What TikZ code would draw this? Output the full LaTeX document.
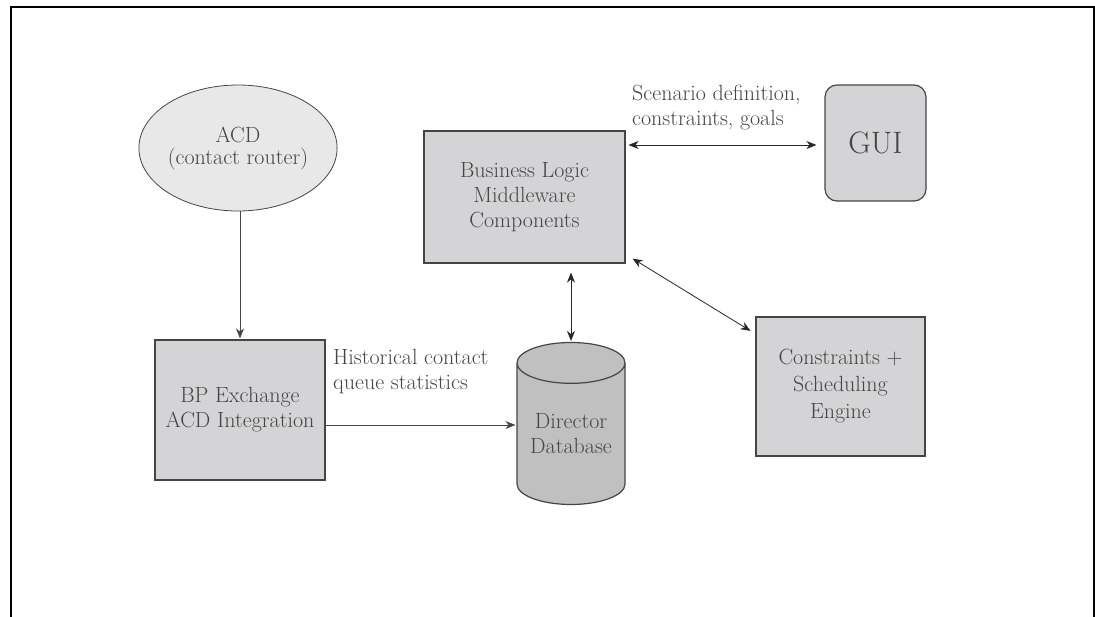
\documentclass[tikz,border=0pt]{standalone}
\usetikzlibrary{shapes.geometric,arrows.meta}
\definecolor{txtgray}{HTML}{454545}
\definecolor{edgegray}{HTML}{454545}
\definecolor{boxgray}{HTML}{D4D4D6}
\definecolor{ellgray}{HTML}{E8E8E8}
\definecolor{cylgray}{HTML}{C0C0C0}
\begin{document}
\begin{tikzpicture}[x=1pt,y=-1pt,
    every node/.style={font=\fontsize{22}{25}\selectfont,text=txtgray,align=center},
    block/.style={draw=edgegray,fill=boxgray,line width=1.2pt,inner sep=0pt},
    link/.style={draw=txtgray,line width=0.9pt,-{Stealth[length=10pt,width=8pt]}},
    both/.style={draw=black!85,line width=0.8pt,{Stealth[length=10pt,width=8pt]}-{Stealth[length=10pt,width=8pt]}}]
      \useasboundingbox (0,0) rectangle (1095,616);
      \draw[line width=1.5pt] (11,7) rectangle (1094,630);
      \draw
        (238,148) node[ellipse,draw=edgegray,fill=ellgray,line width=0.8pt,minimum width=176,minimum height=126,inner sep=0pt,font=\fontsize{22}{22}\selectfont] (acd){ACD\\(contact router)}
        (240,410) node[block,minimum width=170,minimum height=140] (bpx){BP Exchange\\ACD Integration}
        (524.5,197) node[block,minimum width=201,minimum height=132] (blm){Business Logic\\Middleware\\Components}
        (875.5,143) node[block,rounded corners=12pt,minimum width=101,minimum height=116,font=\fontsize{31}{36}\selectfont] (gui){GUI}
        (840.5,386.5) node[block,minimum width=169,minimum height=139,font=\fontsize{22}{27}\selectfont] (cse){Constraints +\\Scheduling\\Engine}
        (571,434) node[cylinder,shape border rotate=90,aspect=0.5,draw=edgegray,fill=cylgray,line width=1.2pt,minimum width=108,minimum height=162,inner sep=0pt] (db){Director\\Database};
      \draw
        (333,372) node[anchor=west,align=left,inner sep=0pt] (hist){Historical contact\\queue statistics}
        (632,108) node[anchor=west,align=left,inner sep=0pt] (scen){Scenario definition,\\constraints, goals};
      \begin{scope}[shorten >=1pt]
        \draw[link] (bpx.north |- acd.south) to (bpx.north);
        \draw[link] ([yshift=-15pt]bpx.east) to ([yshift=-15pt]bpx.east -| db.west);
        \draw[both,shorten <=9pt] (db.north |- blm.south) to (db.north);
        \draw[both,shorten <=3pt,shorten >=8pt] ([yshift=-2pt]gui.west -| blm.east) to ([yshift=-2pt]gui.west);
        \draw[both] ([xshift=7pt,yshift=5pt]blm.south east) to ([xshift=-4pt,yshift=-15pt]cse.north west);
      \end{scope}
    \end{tikzpicture}
\end{document}
